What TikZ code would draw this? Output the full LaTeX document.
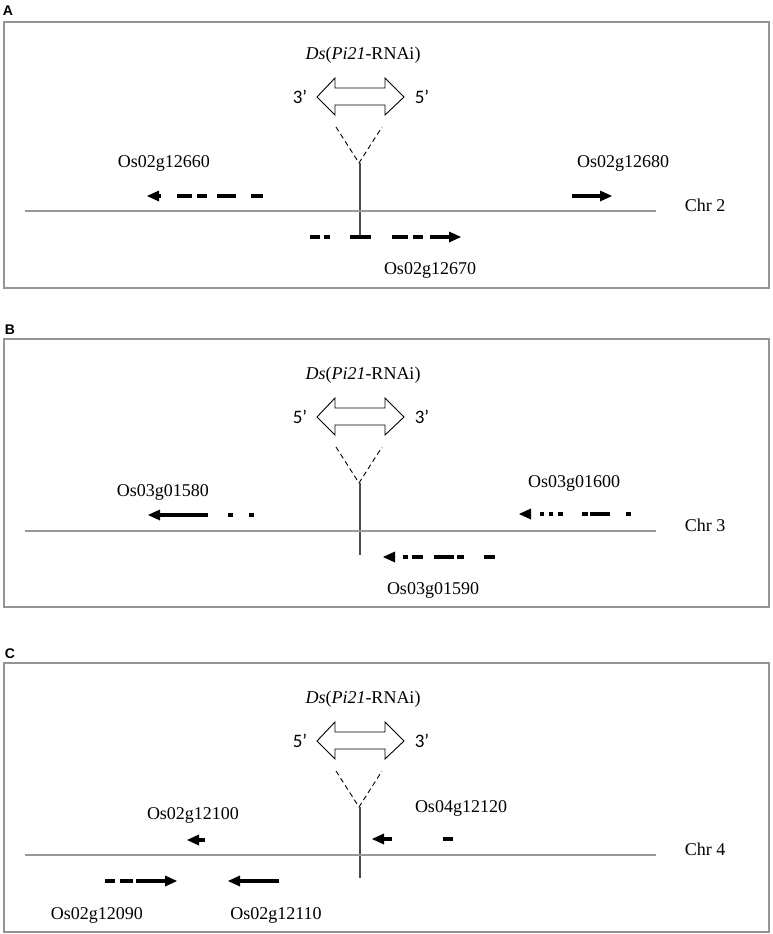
\documentclass[tikz,border=0pt]{standalone}
\usepackage{fontspec}
\setmainfont{Liberation Serif}
\newfontfamily\primefont{Carlito}
\newfontfamily\panelfont{Liberation Sans}
\begin{document}
\begin{tikzpicture}[x=1pt,y=-1pt,
  frame/.style={draw=black!42,line width=1.6pt},
  chrline/.style={draw=black!40,line width=1.3pt},
  insline/.style={draw=black!70,line width=1.5pt},
  vline/.style={draw=black,line width=0.9pt,dash pattern=on 5pt off 3.5pt},
  gene/.style={draw=black,line width=4pt},
  lbl/.style={font=\fontsize{18}{20}\selectfont,inner sep=0pt},
  prm/.style={font=\primefont\fontsize{19}{21}\selectfont,inner sep=0pt},
  panel/.style={font=\panelfont\bfseries\fontsize{14}{16}\selectfont,inner sep=0pt}]
\useasboundingbox (0,0) rectangle (773,934);

% arrow heads: tip at (x,y)
\newcommand{\lhead}[2]{\fill (#1,#2) -- ++(12,-5.5) -- ++(0,11) -- cycle;}
\newcommand{\rhead}[2]{\fill (#1,#2) -- ++(-12,-5.5) -- ++(0,11) -- cycle;}

% common insertion motif
\newcommand{\dsmotif}[4]{%
  \begin{scope}[yshift=-#1pt]
  \node[lbl] (t#4) at (363,55) {\textit{Ds}(\textit{Pi21}-RNAi)};
  \draw[line width=0.9pt,fill=white] (317,97) -- (335,78) -- (335,88) -- (385,88) -- (385,78)
     -- (404,97) -- (385,115) -- (385,105) -- (335,105) -- (335,115) -- cycle;
  \node[prm] (l#4) at (300,97) {#2};
  \node[prm] (r#4) at (422,97) {#3};
  \coordinate (vl#4) at (336,127);
  \coordinate (vr#4) at (382,127);
  \coordinate (ap#4) at (359,163);
  \draw[vline] (vl#4) -- (ap#4) -- (vr#4);
  \end{scope}}

% ---------------- Panel A ----------------
\node[panel] (pa) at (8,11) {A};
\draw[frame] (4,22) rectangle (769,288);
\dsmotif{0}{3’}{5’}{a}
\coordinate (ia) at (360,163);
\coordinate (ib) at (360,237);
\draw[insline] (ia) -- (ib);
\draw[chrline] (25,211) -- (656,211);
\node[lbl] (chra) at (705,205) {Chr 2};
% Os02g12660
\lhead{147}{196}
\draw[gene] (158,196) -- (161,196) (177,196) -- (192,196) (197,196) -- (207,196) (217,196) -- (236,196) (251,196) -- (263,196);
\node[lbl] (g660) at (164,163) {Os02g12660};
% Os02g12680
\draw[gene] (572,196) -- (601,196);
\rhead{612}{196}
\node[lbl] (g680) at (623,163) {Os02g12680};
% Os02g12670
\draw[gene] (310,237) -- (320,237) (324,237) -- (330,237) (350,237) -- (371,237) (392,237) -- (408,237) (413,237) -- (423,237) (430,237) -- (450,237);
\rhead{461}{237}
\node[lbl] (g670) at (430,270) {Os02g12670};

% ---------------- Panel B ----------------
\node[panel] (pb) at (10,330) {B};
\draw[frame] (4,339) rectangle (769,607);
\dsmotif{320}{5’}{3’}{b}
\coordinate (ib1) at (360,483);
\coordinate (ib2) at (360,555);
\draw[insline] (ib1) -- (ib2);
\draw[chrline] (25,531) -- (656,531);
\node[lbl] (chrb) at (705,525) {Chr 3};
% Os03g01580
\lhead{148}{515}
\draw[gene] (159,515) -- (208,515) (228,515) -- (233,515) (249,515) -- (254,515);
\node[lbl] (g580) at (163,492) {Os03g01580};
% Os03g01600
\lhead{519}{514}
\draw[gene] (540,514) -- (544,514) (549,514) -- (553,514) (558,514) -- (563,514) (582,514) -- (588,514) (590,514) -- (610,514) (626,514) -- (631,514);
\node[lbl] (g600) at (574,483) {Os03g01600};
% Os03g01590
\lhead{383}{557}
\draw[gene] (403,557) -- (408,557) (412,557) -- (423,557) (434,557) -- (454,557) (457,557) -- (464,557) (484,557) -- (495,557);
\node[lbl] (g590) at (433,590) {Os03g01590};

% ---------------- Panel C ----------------
\node[panel] (pc) at (10,654) {C};
\draw[frame] (4,663) rectangle (769,932);
\dsmotif{644}{5’}{3’}{c}
\coordinate (ic1) at (360,807);
\coordinate (ic2) at (360,878);
\draw[insline] (ic1) -- (ic2);
\draw[chrline] (25,855) -- (656,855);
\node[lbl] (chrc) at (705,849) {Chr 4};
% Os02g12100
\lhead{187}{840}
\draw[gene] (198,840) -- (205,840);
\node[lbl] (g100) at (193,815) {Os02g12100};
% Os04g12120
\lhead{372}{839}
\draw[gene] (383,839) -- (392,839) (443,839) -- (453,839);
\node[lbl] (g120) at (461,808) {Os04g12120};
% Os02g12090
\draw[gene] (105,881) -- (115,881) (120,881) -- (133,881) (136,881) -- (166,881);
\rhead{177}{881}
\node[lbl] (g090) at (97,915) {Os02g12090};
% Os02g12110
\lhead{228}{881}
\draw[gene] (239,881) -- (279,881);
\node[lbl] (g110) at (276,915) {Os02g12110};
\end{tikzpicture}
\end{document}
